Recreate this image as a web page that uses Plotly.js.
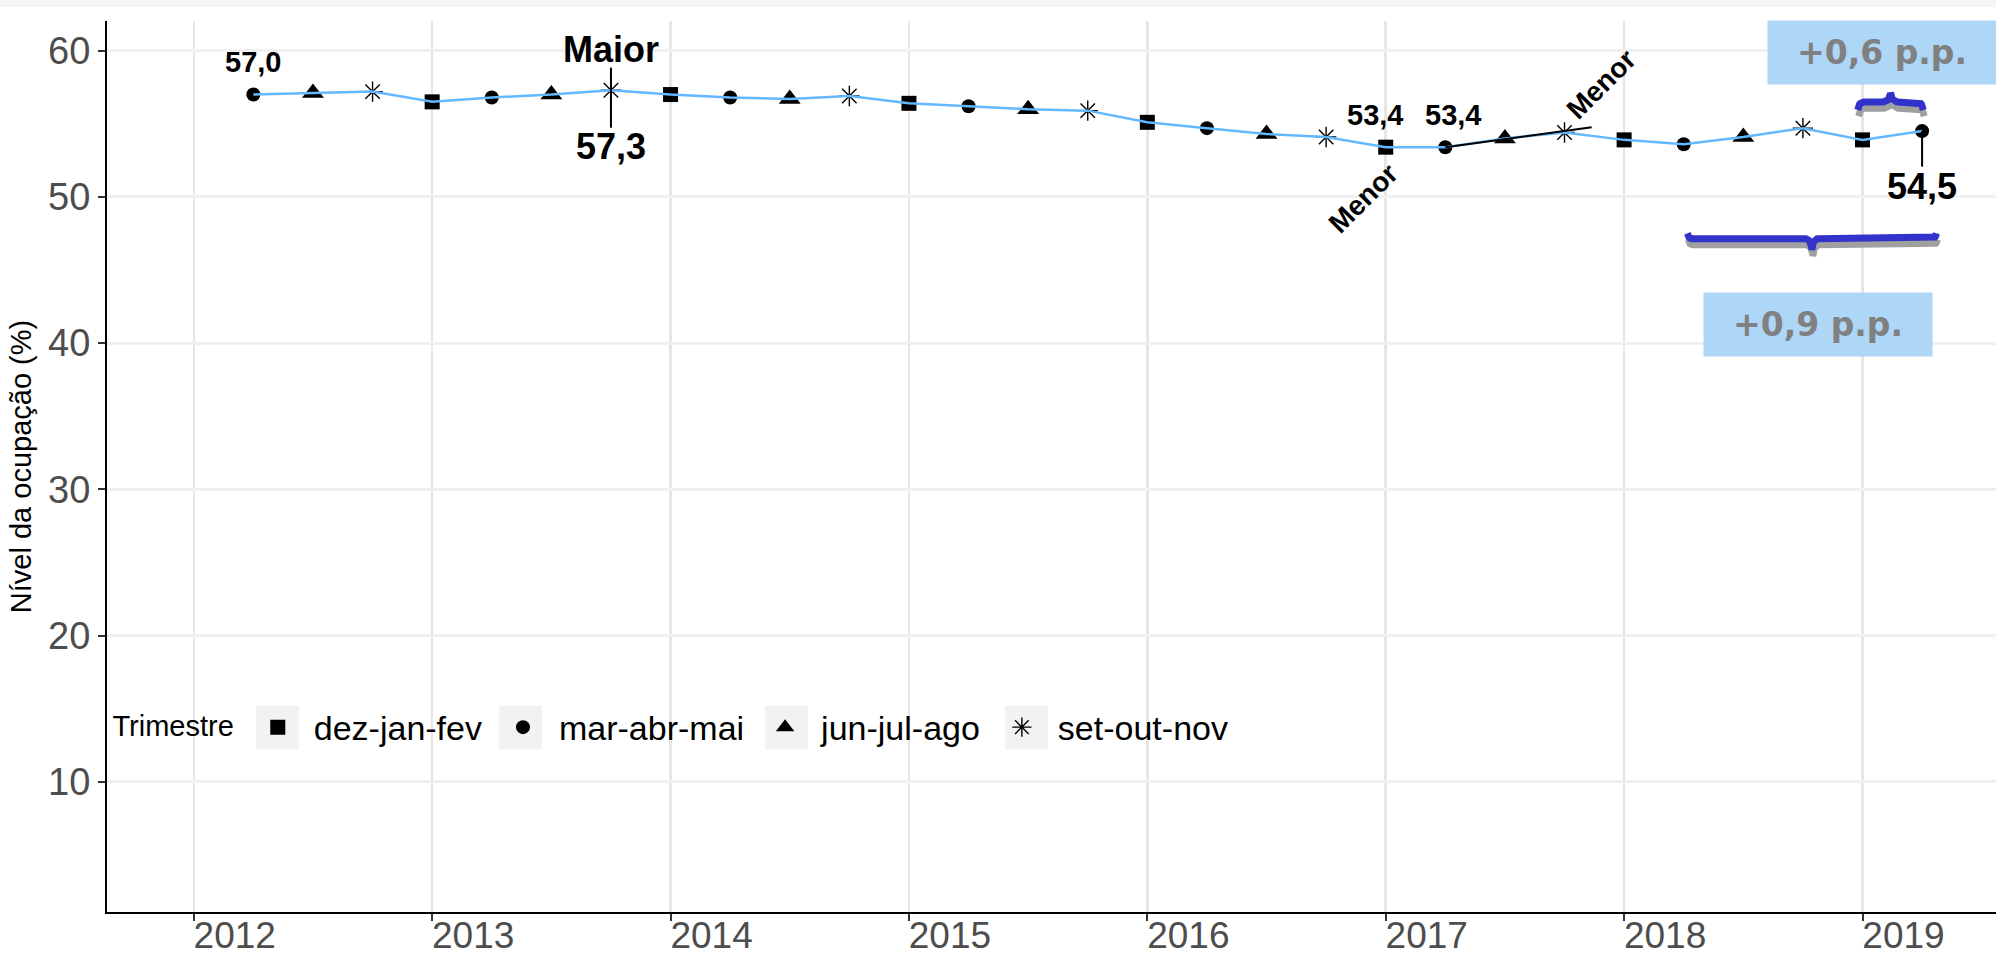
<!DOCTYPE html>
<html><head><meta charset="utf-8">
<script src="https://cdn.plot.ly/plotly-3.0.1.min.js"></script>
<style>html,body{margin:0;padding:0;background:#fff;overflow:hidden}</style>
</head><body><div id="chart" style="width:1996px;height:960px"></div>
<script>
// ---- data ----
const tempo = [2012.25, 2012.5, 2012.75, 2013, 2013.25, 2013.5, 2013.75, 2014, 2014.25, 2014.5, 2014.75,
  2015, 2015.25, 2015.5, 2015.75, 2016, 2016.25, 2016.5, 2016.75, 2017, 2017.25, 2017.5, 2017.75,
  2018, 2018.25, 2018.5, 2018.75, 2019, 2019.25];
const trimestre = ["mar-abr-mai","jun-jul-ago","set-out-nov",
  "dez-jan-fev","mar-abr-mai","jun-jul-ago","set-out-nov",
  "dez-jan-fev","mar-abr-mai","jun-jul-ago","set-out-nov",
  "dez-jan-fev","mar-abr-mai","jun-jul-ago","set-out-nov",
  "dez-jan-fev","mar-abr-mai","jun-jul-ago","set-out-nov",
  "dez-jan-fev","mar-abr-mai","jun-jul-ago","set-out-nov",
  "dez-jan-fev","mar-abr-mai","jun-jul-ago","set-out-nov",
  "dez-jan-fev","mar-abr-mai"];
const nivel = [57.0, 57.1, 57.2, 56.5, 56.8, 57.0, 57.3, 57.0, 56.8, 56.7, 56.9,
  56.4, 56.2, 56.0, 55.9, 55.1, 54.7, 54.3, 54.1, 53.4, 53.4, 54.0, 54.4,
  53.9, 53.6, 54.1, 54.7, 53.9, 54.5];
const legendaTrimestres = ["dez-jan-fev","mar-abr-mai","jun-jul-ago","set-out-nov"];
const anosTicks = [2012, 2013, 2014, 2015, 2016, 2017, 2018, 2019];
const ticksY = [10, 20, 30, 40, 50, 60];
const variacaoCurta = "+0,6 p.p.";
const variacaoLonga = "+0,9 p.p.";

// ---- styles ----
const FONT = 'Arial, "Liberation Sans", sans-serif';
const estiloMarcador = {
  "dez-jan-fev": {symbol: "square", size: 15},
  "mar-abr-mai": {symbol: "circle", size: 14},
  "jun-jul-ago": {symbol: "triangle-up", size: 19},
  "set-out-nov": {symbol: "asterisk-open", size: 17}
};
const fmt = v => v.toFixed(1).replace('.', ',');

const traces = [];
legendaTrimestres.forEach(nome => {
  const idx = trimestre.map((t, i) => t === nome ? i : -1).filter(i => i >= 0);
  const st = estiloMarcador[nome];
  traces.push({
    type: "scatter", mode: "markers", name: nome,
    x: idx.map(i => tempo[i]), y: idx.map(i => nivel[i]),
    marker: {symbol: st.symbol, size: st.size, color: "#000",
             line: {color: "#000", width: st.symbol === "asterisk-open" ? 1.4 : 0}},
    hoverinfo: "x+y"
  });
});
traces.push({type: "scatter", mode: "lines", x: tempo, y: nivel, showlegend: false,
  line: {color: "#63b8ff", width: 2.5}, hoverinfo: "skip"});

// indices of highlighted points
const iMax = nivel.indexOf(Math.max(...nivel));
const iMin1 = 19, iMin2 = 20, iLast = nivel.length - 1, iPrev = iLast - 1, iYearAgo = iLast - 4;

// leader segments (black)
function seg(x0, y0, x1, y1) {
  traces.push({type: "scatter", mode: "lines", x: [x0, x1], y: [y0, y1], showlegend: false,
    line: {color: "#000", width: 2}, hoverinfo: "skip"});
}
seg(tempo[iMax], nivel[iMax] + 1.54, tempo[iMax], nivel[iMax] - 2.57);
seg(tempo[iMin2], nivel[iMin2], tempo[iMin2] + 0.614, nivel[iMin2] + 1.36);
seg(tempo[iLast], nivel[iLast], tempo[iLast], nivel[iLast] - 2.43);

// curly braces
function brace(xa, xb, yTip, yBar, yPeak, rEnd, rMid) {
  const xs = [], ys = [], n = 12, xm = (xa + xb) / 2;
  for (let k = 0; k <= n; k++) { const t = k / n * Math.PI / 2;
    xs.push(xa + rEnd * (1 - Math.cos(t))); ys.push(yTip + (yBar - yTip) * Math.sin(t)); }
  for (let k = 0; k <= n; k++) { const t = k / n * Math.PI / 2;
    xs.push(xm - rMid + rMid * Math.sin(t)); ys.push(yBar + (yPeak - yBar) * (1 - Math.cos(t))); }
  for (let k = n; k >= 0; k--) { const t = k / n * Math.PI / 2;
    xs.push(xm + rMid - rMid * Math.sin(t)); ys.push(yBar + (yPeak - yBar) * (1 - Math.cos(t))); }
  for (let k = n; k >= 0; k--) { const t = k / n * Math.PI / 2;
    xs.push(xb - rEnd * (1 - Math.cos(t))); ys.push(yTip + (yBar - yTip) * Math.sin(t)); }
  return {xs, ys};
}
function addBrace(b) {
  traces.push({type: "scatter", mode: "lines", x: b.xs.map(v => v + 0.004), y: b.ys.map(v => v - 0.42),
    showlegend: false, line: {color: "#a0a0a0", width: 7}, hoverinfo: "skip"});
  traces.push({type: "scatter", mode: "lines", x: b.xs, y: b.ys,
    showlegend: false, line: {color: "#3333cc", width: 7}, hoverinfo: "skip"});
}
addBrace(brace(tempo[iPrev] - 0.02, tempo[iLast] + 0.005, 55.94, 56.49, 57.13, 0.025, 0.03));
addBrace(brace(tempo[iYearAgo] + 0.015, tempo[iLast] + 0.06, 47.51, 47.14, 46.37, 0.02, 0.025));

const ann = (x, y, text, size, extra) => Object.assign({x, y, xref: "x", yref: "y", text,
  showarrow: false, xanchor: "center", yanchor: "middle",
  font: {family: FONT, size, color: "#000", weight: "bold"}}, extra || {});
const BOXFONT = {family: "DejaVu Sans, Verdana, sans-serif", size: 33, color: "#808080"};

const annotations = [
  ann(tempo[0], nivel[0] + 2.23, "<b>" + fmt(nivel[0]) + "</b>", 29),
  ann(tempo[iMax], nivel[iMax] + 2.75, "<b>Maior</b>", 36),
  ann(tempo[iMax], nivel[iMax] - 3.82, "<b>" + fmt(nivel[iMax]) + "</b>", 36),
  ann(tempo[iMin1] - 0.045, nivel[iMin1] + 2.2, "<b>" + fmt(nivel[iMin1]) + "</b>", 29),
  ann(tempo[iMin2] + 0.034, nivel[iMin2] + 2.2, "<b>" + fmt(nivel[iMin2]) + "</b>", 29),
  ann(tempo[iMin1] - 0.095, nivel[iMin1] - 3.48, "<b>Menor</b>", 28, {textangle: -45}),
  ann(tempo[iMin2] + 0.653, nivel[iMin2] + 4.32, "<b>Menor</b>", 28, {textangle: -45}),
  ann(tempo[iLast], nivel[iLast] - 3.82, "<b>" + fmt(nivel[iLast]) + "</b>", 36),
  Object.assign(ann(2019.082, 59.9, "<b>" + variacaoCurta + "</b>", 33,
    {bgcolor: "#add6f7", width: 226, height: 61}), {font: BOXFONT}),
  Object.assign(ann(2018.812, 41.27, "<b>" + variacaoLonga + "</b>", 33,
    {bgcolor: "#add6f7", width: 226, height: 61}), {font: BOXFONT})
];

// legend key background boxes (pixel centres of the legend keys -> paper coords)
const PL = 107, PW = 1889, PB = 912, PH = 891;
const keyCentres = [277.5, 520.5, 786.5, 1026.5];
const shapes = [{type: "rect", xref: "paper", yref: "paper", x0: -0.06, x1: 1.01, y0: 1.0157, y1: 1.04,
    fillcolor: "#f4f4f4", line: {width: 0}, layer: "below"}];
keyCentres.forEach(c => shapes.push({type: "rect", xref: "paper", yref: "paper",
  x0: (c - 21.5 - PL) / PW, x1: (c + 21.5 - PL) / PW, y0: (PB - 749.3) / PH, y1: (PB - 706) / PH,
  fillcolor: "#f2f2f2", line: {width: 0}, layer: "between"}));

const layout = {
  width: 1996, height: 960,
  margin: {l: 107, r: 0, t: 21, b: 48, pad: 0},
  paper_bgcolor: "#fff", plot_bgcolor: "#fff",
  font: {family: FONT, color: "#000"},
  showlegend: true,
  legend: {orientation: "h", x: 0.0018, y: 0.207, xanchor: "left", yanchor: "middle",
    bgcolor: "rgba(0,0,0,0)", font: {family: FONT, size: 34, color: "#000"},
    itemwidth: 62,
    title: {text: "Trimestre", font: {family: FONT, size: 29, color: "#000"}, side: "left"},
    traceorder: "normal"},
  xaxis: {range: [2011.636, 2019.56], tickvals: anosTicks, ticktext: anosTicks.map(String),
    showgrid: true, gridcolor: "#e6e6e6", gridwidth: 2.5, zeroline: false,
    showline: true, linecolor: "#000", linewidth: 2,
    ticks: "outside", ticklen: 7, tickwidth: 2, tickcolor: "#333",
    tickfont: {family: FONT, size: 37, color: "#4d4d4d"}, ticklabelshift: 41, ticklabelstandoff: -17},
  yaxis: {range: [1.09, 62.03], tickvals: ticksY, ticktext: ticksY.map(String),
    showgrid: true, gridcolor: "#f0f0f0", gridwidth: 3, zeroline: false,
    showline: true, linecolor: "#000", linewidth: 2,
    ticks: "outside", ticklen: 7, tickwidth: 2, tickcolor: "#333",
    tickfont: {family: FONT, size: 38, color: "#4d4d4d"},
    title: {text: "Nível da ocupação (%)", font: {family: FONT, size: 29, color: "#000"}, standoff: 8}},
  annotations,
  shapes
};

Plotly.newPlot("chart", traces, layout, {displayModeBar: false, staticPlot: true});
</script></body></html>
